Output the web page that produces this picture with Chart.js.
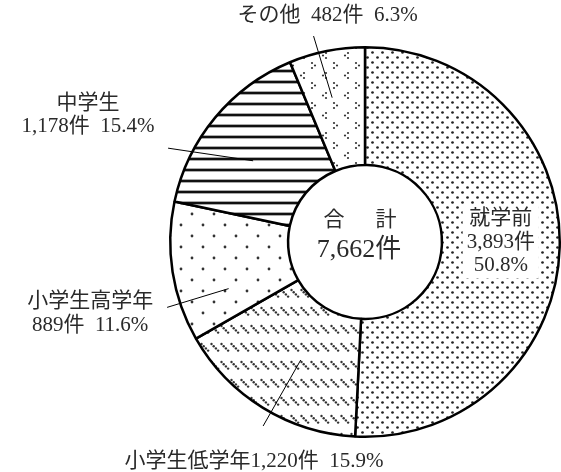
<!DOCTYPE html>
<html lang="ja">
<head>
<meta charset="utf-8">
<script src="https://cdn.jsdelivr.net/npm/chart.js@4.4.1/dist/chart.umd.min.js"></script>
<style>
  html, body { margin: 0; padding: 0; background: #fff; }
  #wrap { width: 561px; height: 472px; }
</style>
</head>
<body>
<div id="wrap"><canvas id="donutChart" width="561" height="472"></canvas></div>
<script>
// データ
const categories = ['就学前', '小学生低学年', '小学生高学年', '中学生', 'その他'];
const counts = [3893, 1220, 889, 1178, 482];
const percents = [50.8, 15.9, 11.6, 15.4, 6.3];
const totalTitle = ['合', '計'];
const unit = '件';

const FONT = "'Liberation Serif', 'Noto Sans CJK JP', serif";
const TEXT_COLOR = '#2a2a2a';

function fmt(n) {
    return n.toLocaleString('en-US');
}

const ctx = document.getElementById('donutChart').getContext('2d');

// 模様（パターン）を作る
function makePattern(w, h, draw) {
    const c = document.createElement('canvas');
    c.width = w;
    c.height = h;
    const g = c.getContext('2d');
    g.fillStyle = '#fff';
    g.fillRect(0, 0, w, h);
    draw(g);
    return ctx.createPattern(c, 'repeat');
}
function dot(g, x, y, r, color) {
    g.fillStyle = color;
    g.beginPath();
    g.arc(x, y, r, 0, Math.PI * 2);
    g.fill();
}

const patterns = [
    // 就学前: 細かい点
    makePattern(10, 10, g => {
        dot(g, 2.5, 2.5, 1.35, '#222');
        dot(g, 7.5, 7.5, 1.35, '#222');
    }),
    // 小学生低学年: 斜めの短線
    makePattern(10, 18, g => {
        for (let k = 0; k < 4; k++) dot(g, 1.5 + 2.2 * k, 2 + 2.2 * k, 1.2, '#333');
    }),
    // 小学生高学年: 粗い点
    makePattern(22, 22, g => {
        dot(g, 5, 5, 1.4, '#333');
        dot(g, 16, 16, 1.4, '#333');
    }),
    // 中学生: 横線
    makePattern(8, 11, g => {
        g.fillStyle = '#aaa';
        g.fillRect(0, 3, 8, 1);
        g.fillRect(0, 6, 8, 1);
        g.fillStyle = '#111';
        g.fillRect(0, 4, 8, 2);
    }),
    // その他: < > 模様
    makePattern(22, 20, g => {
        dot(g, 4, 3, 1.1, '#333'); dot(g, 7, 5.5, 1.1, '#333'); dot(g, 4, 8, 1.1, '#333');
        dot(g, 18, 13, 1.1, '#333'); dot(g, 15, 15.5, 1.1, '#333'); dot(g, 18, 18, 1.1, '#333');
    })
];

// ラベルの配置（角度は度, 半径は外半径比）
const labelLayout = [
    { inside: true, lines: [-27, -3, 20] },
    { d1: -3, r1: 0.69, d2: -2.6, r2: 1.08, dx: -9, lines: [35] },
    { d1: -10, r1: 0.74, d2: -9.4, r2: 1.07, dx: -77, lines: [-6, 18] },
    { d1: -3.7, r1: 0.71, d2: -14.2, r2: 1.12, dx: -80, lines: [-45, -22] },
    { d1: -1.5, r1: 0.76, d2: -2.7, r2: 1.09, dx: 14, lines: [-21] }
];

function labelText(i) {
    const name = categories[i];
    const c = fmt(counts[i]) + unit;
    const p = percents[i].toFixed(1) + '%';
    if (i === 0) return [name, c, p];
    if (i === 1) return [name + c + '  ' + p];
    if (i === 4) return [name + '  ' + c + '  ' + p];
    return [name, c + '  ' + p];
}

const labelPlugin = {
    id: 'donutLabels',
    afterDatasetsDraw(chart) {
        const c = chart.ctx;
        const arcs = chart.getDatasetMeta(0).data;
        c.save();
        c.textBaseline = 'middle';
        c.textAlign = 'center';
        c.font = '21px ' + FONT;
        arcs.forEach((arc, i) => {
            const L = labelLayout[i];
            const texts = labelText(i);
            const { x, y, startAngle, endAngle, outerRadius } = arc.getProps(['x', 'y', 'startAngle', 'endAngle', 'outerRadius'], true);
            const mid = (startAngle + endAngle) / 2;
            if (L.inside) {
                const pos = arc.tooltipPosition(true);
                const w = Math.max(...texts.map(t => c.measureText(t).width)) + 8;
                const top = pos.y + L.lines[0] - 13;
                const bottom = pos.y + L.lines[L.lines.length - 1] + 13;
                c.fillStyle = '#fff';
                c.fillRect(pos.x - w / 2, top, w, bottom - top);
                c.fillStyle = TEXT_COLOR;
                texts.forEach((t, k) => c.fillText(t, pos.x, pos.y + L.lines[k]));
                return;
            }
            const a1 = mid + L.d1 * Math.PI / 180;
            const a2 = mid + L.d2 * Math.PI / 180;
            const p1 = { x: x + Math.cos(a1) * outerRadius * L.r1, y: y + Math.sin(a1) * outerRadius * L.r1 };
            const p2 = { x: x + Math.cos(a2) * outerRadius * L.r2, y: y + Math.sin(a2) * outerRadius * L.r2 };
            c.strokeStyle = '#000';
            c.lineWidth = 1;
            c.beginPath();
            c.moveTo(p1.x, p1.y);
            c.lineTo(p2.x, p2.y);
            c.stroke();
            c.fillStyle = TEXT_COLOR;
            texts.forEach((t, k) => c.fillText(t, p2.x + L.dx, p2.y + L.lines[k]));
        });

        // 中央の合計
        const first = arcs[0];
        const cx = first.x, cy = first.y;
        const total = counts.reduce((s, v) => s + v, 0);
        c.fillStyle = TEXT_COLOR;
        c.font = '21px ' + FONT;
        c.fillText(totalTitle[0], cx - 31, cy - 22);
        c.fillText(totalTitle[1], cx + 21, cy - 22);
        c.font = '26px ' + FONT;
        c.fillText(fmt(total) + unit, cx - 6, cy + 8);
        c.restore();
    }
};

new Chart(ctx, {
    type: 'doughnut',
    data: {
        labels: categories,
        datasets: [{
            data: counts,
            backgroundColor: patterns,
            borderColor: '#000',
            borderWidth: 2.5
        }]
    },
    options: {
        responsive: false,
        animation: false,
        cutout: '39.5%',
        layout: { padding: { left: 169, right: 0, top: 46, bottom: 34 } },
        plugins: {
            legend: { display: false },
            tooltip: { enabled: false }
        }
    },
    plugins: [labelPlugin]
});
</script>
</body>
</html>
